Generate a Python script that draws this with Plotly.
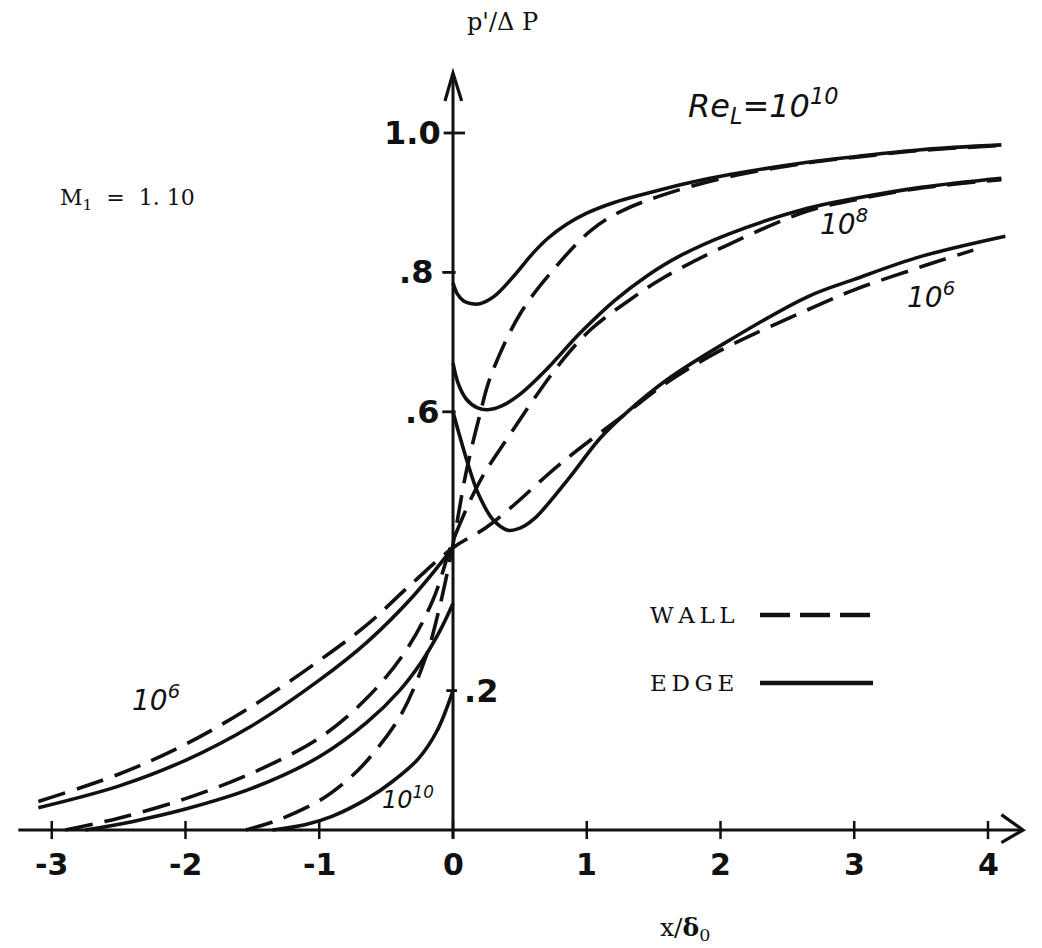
import plotly.graph_objects as go

# ---------------- data ----------------
# Re_L = 1e10
edge_1e10_left_x = [-1.35, -1.1, -0.9, -0.64, -0.45, -0.26, -0.12, 0.0]
edge_1e10_left_y = [0.0, 0.008, 0.02, 0.045, 0.07, 0.102, 0.142, 0.2]
edge_1e10_right_x = [0.0, 0.03, 0.08, 0.14, 0.2, 0.31, 0.46, 0.6, 0.71, 0.85, 1.0, 1.2, 1.46, 1.75, 2.06, 2.65, 3.0, 3.5, 4.1]
edge_1e10_right_y = [0.785, 0.77, 0.759, 0.755, 0.755, 0.766, 0.796, 0.828, 0.849, 0.869, 0.885, 0.9, 0.914, 0.928, 0.94, 0.958, 0.966, 0.976, 0.983]
wall_1e10_x = [-1.55, -1.3, -1.0, -0.8, -0.64, -0.39, -0.2, -0.1, 0.0, 0.1, 0.2, 0.28, 0.5, 0.76, 1.03, 1.26, 1.6, 2.06, 2.65, 3.0, 3.5, 4.1]
wall_1e10_y = [0.0, 0.015, 0.042, 0.07, 0.1, 0.165, 0.25, 0.32, 0.41, 0.515, 0.595, 0.65, 0.74, 0.806, 0.86, 0.888, 0.913, 0.937, 0.957, 0.965, 0.975, 0.982]

# Re_L = 1e8
edge_1e8_left_x = [-2.75, -2.4, -2.0, -1.5, -1.0, -0.64, -0.4, -0.24, -0.1, 0.0]
edge_1e8_left_y = [0.0, 0.012, 0.03, 0.06, 0.105, 0.155, 0.2, 0.24, 0.285, 0.325]
edge_1e8_right_x = [0.0, 0.04, 0.1, 0.18, 0.26, 0.36, 0.5, 0.71, 0.95, 1.21, 1.45, 1.7, 2.06, 2.65, 3.0, 3.5, 4.1]
edge_1e8_right_y = [0.67, 0.64, 0.618, 0.606, 0.603, 0.608, 0.625, 0.663, 0.713, 0.76, 0.795, 0.824, 0.855, 0.892, 0.906, 0.922, 0.935]
wall_1e8_x = [-2.9, -2.5, -2.0, -1.5, -1.0, -0.64, -0.35, -0.15, 0.0, 0.2, 0.4, 0.79, 1.03, 1.31, 1.58, 2.06, 2.65, 3.0, 3.5, 4.1]
wall_1e8_y = [0.0, 0.017, 0.045, 0.082, 0.132, 0.19, 0.258, 0.33, 0.415, 0.5, 0.56, 0.667, 0.718, 0.759, 0.793, 0.84, 0.888, 0.904, 0.921, 0.933]

# Re_L = 1e6
edge_1e6_left_x = [-3.1, -2.5, -2.0, -1.5, -1.0, -0.64, -0.3, 0.0]
edge_1e6_left_y = [0.032, 0.063, 0.1, 0.15, 0.215, 0.27, 0.335, 0.405]
edge_1e6_right_x = [0.0, 0.04, 0.12, 0.19, 0.3, 0.41, 0.5, 0.61, 0.86, 1.1, 1.31, 1.6, 2.0, 2.65, 3.0, 3.5, 4.13]
edge_1e6_right_y = [0.6, 0.572, 0.52, 0.482, 0.445, 0.43, 0.433, 0.447, 0.503, 0.562, 0.601, 0.646, 0.695, 0.765, 0.79, 0.823, 0.852]
wall_1e6_x = [-3.1, -2.5, -2.0, -1.5, -1.0, -0.64, -0.3, 0.0, 0.24, 0.43, 0.8, 1.31, 1.6, 2.0, 2.73, 3.0, 3.5, 3.89]
wall_1e6_y = [0.041, 0.08, 0.123, 0.178, 0.243, 0.295, 0.355, 0.405, 0.433, 0.462, 0.525, 0.6, 0.642, 0.688, 0.753, 0.775, 0.808, 0.832]

x_ticks = [-3, -2, -1, 0, 1, 2, 3, 4]
x_tick_labels = ["-3", "-2", "-1", "0", "1", "2", "3", "4"]
y_ticks = [1.0, 0.8, 0.6, 0.2]
y_tick_labels = ["1.0", ".8", ".6", ".2"]

# ---------------- figure ----------------
INK = "#111111"
LW = 3.6
DASH = "28px,12px"

fig = go.Figure()

def curve(xs, ys, dashed):
    fig.add_trace(go.Scatter(
        x=xs, y=ys, mode="lines",
        line=dict(color=INK, width=LW, dash=DASH if dashed else "solid",
                  shape="spline", smoothing=1.0),
        hoverinfo="skip", showlegend=False))

curve(wall_1e10_x, wall_1e10_y, True)
curve(wall_1e8_x, wall_1e8_y, True)
curve(wall_1e6_x, wall_1e6_y, True)
curve(edge_1e10_left_x, edge_1e10_left_y, False)
curve(edge_1e10_right_x, edge_1e10_right_y, False)
curve(edge_1e8_left_x, edge_1e8_left_y, False)
curve(edge_1e8_right_x, edge_1e8_right_y, False)
curve(edge_1e6_left_x, edge_1e6_left_y, False)
curve(edge_1e6_right_x, edge_1e6_right_y, False)

# pixel mapping: x px = 445 + 133.75*x ; y px = 822 - 697*y
XR = [-445 / 133.75, (1042 - 445) / 133.75]
YR = [(822 - 948) / 697, 822 / 697]

shapes = []
axline = dict(color=INK, width=3)
# axes
shapes.append(dict(type="line", xref="x", yref="y", x0=-3.25, y0=0, x1=4.26, y1=0, line=axline))
shapes.append(dict(type="line", xref="x", yref="y", x0=0, y0=-0.012, x1=0, y1=1.086, line=axline))
# arrow heads (open chevrons)
shapes.append(dict(type="path", xref="x", yref="y",
                   path="M 4.10,0.022 L 4.262,0 L 4.10,-0.018", line=dict(color=INK, width=3.2)))
shapes.append(dict(type="path", xref="x", yref="y",
                   path="M -0.06,1.046 L 0,1.086 L 0.065,1.046", line=dict(color=INK, width=3.2)))
# x ticks
for t in x_ticks:
    shapes.append(dict(type="line", xref="x", yref="y", x0=t, y0=-0.013, x1=t, y1=0.013,
                       line=dict(color=INK, width=2.5)))
# y ticks
for t in y_ticks:
    if t == 1.0:
        a, b = -0.07, 0.09
    elif t == 0.2:
        a, b = -0.05, 0.03
    else:
        a, b = -0.08, 0.02
    shapes.append(dict(type="line", xref="x", yref="y", x0=a, y0=t, x1=b, y1=t,
                       line=dict(color=INK, width=2.8)))

# legend sample lines
shapes.append(dict(type="line", xref="paper", yref="paper",
                   x0=752 / 1042, x1=867 / 1042, y0=1 - 607 / 948, y1=1 - 607 / 948,
                   line=dict(color=INK, width=4.5, dash="30px,10px")))
shapes.append(dict(type="line", xref="paper", yref="paper",
                   x0=752 / 1042, x1=865 / 1042, y0=1 - 675 / 948, y1=1 - 675 / 948,
                   line=dict(color=INK, width=4.5)))

ann = []
HAND = "DejaVu Sans"
SERIF = "DejaVu Serif"

for t, lab in zip(x_ticks, x_tick_labels):
    ann.append(dict(x=t, y=-0.05, xref="x", yref="y", text=lab, showarrow=False,
                    font=dict(family=HAND, size=30, color=INK, weight="bold"),
                    xanchor="center", yanchor="middle"))

y_label_x = {1.0: -0.3, 0.8: -0.28, 0.6: -0.23, 0.2: 0.21}
for t, lab in zip(y_ticks, y_tick_labels):
    ann.append(dict(x=y_label_x[t], y=t, xref="x", yref="y", text=lab, showarrow=False,
                    font=dict(family=HAND, size=32, color=INK, weight="bold"),
                    xanchor="center", yanchor="middle"))

def pix(px, py, text, size, family, italic=False, anchor="center"):
    ann.append(dict(x=px / 1042, y=1 - py / 948, xref="paper", yref="paper", text=text,
                    showarrow=False, xanchor=anchor, yanchor="middle",
                    font=dict(family=family, size=size, color=INK,
                              style="italic" if italic else "normal")))

pix(755, 98, "Re<sub>L</sub>=10<sup>10</sup>", 32, HAND, italic=True)
pix(836, 214, "10<sup>8</sup>", 28, HAND, italic=True)
pix(923, 287, "10<sup>6</sup>", 28, HAND, italic=True)
pix(148, 690, "10<sup>6</sup>", 28, HAND, italic=True)
pix(400, 790, "10<sup>10</sup>", 24, HAND, italic=True)

pix(50, 192, "M<sub>1</sub>  =  1. 10", 22, SERIF, anchor="left")
pix(640, 607, "W\u2009A\u2009L\u2009L", 23, SERIF, anchor="left")
pix(640, 675, "E\u2009D\u2009G\u2009E", 23, SERIF, anchor="left")
pix(677, 921, "x/<b>δ</b><sub>0</sub>", 25, SERIF)
pix(494, 14, "p'/Δ P", 24, SERIF)

fig.update_layout(
    width=1042, height=948, autosize=False,
    margin=dict(l=0, r=0, t=0, b=0),
    paper_bgcolor="white", plot_bgcolor="white",
    xaxis=dict(range=XR, visible=False, fixedrange=True),
    yaxis=dict(range=YR, visible=False, fixedrange=True),
    shapes=shapes, annotations=ann, showlegend=False,
)

fig.write_html("out.html")
